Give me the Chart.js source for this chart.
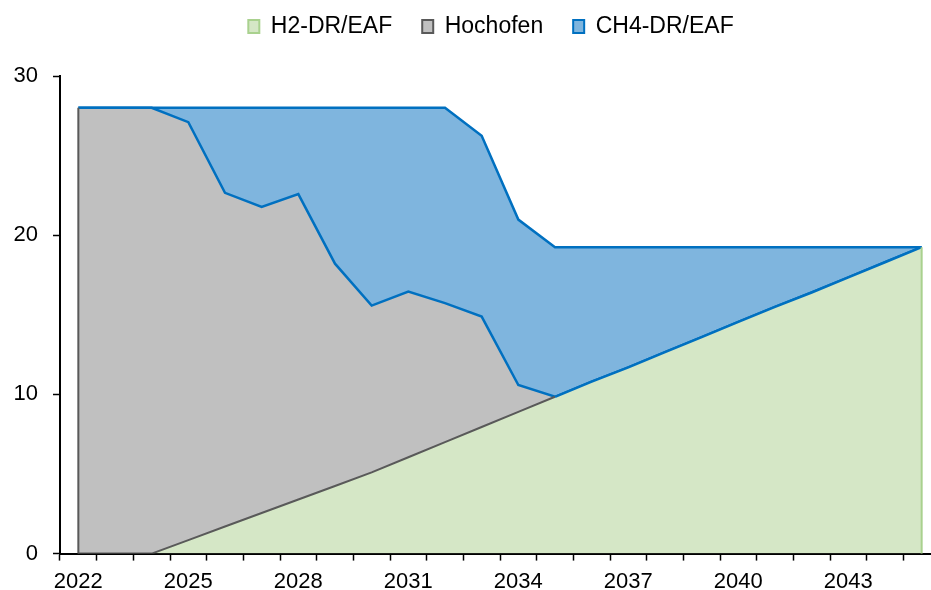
<!DOCTYPE html>
<html>
<head>
<meta charset="utf-8">
<title>Stahlproduktion nach Verfahren</title>
<script src="https://cdn.jsdelivr.net/npm/chart.js@4.4.0/dist/chart.umd.min.js"></script>
<style>
    html, body { margin: 0; padding: 0; background: #fff; overflow: hidden; }
    #wrap { width: 982px; height: 590px; }
</style>
</head>
<body>
<div id="wrap"><canvas id="chart" width="982" height="590"></canvas></div>
<script>
// Jahre (Kategorien)
const years = ['2022', '2023', '2024', '2025', '2026', '2027', '2028', '2029', '2030', '2031', '2032', '2033',
               '2034', '2035', '2036', '2037', '2038', '2039', '2040', '2041', '2042', '2043', '2044', '2045'];

// Werte je Verfahren (gestapelt)
const h2Values = [0, 0, 0, 0.85, 1.7, 2.55, 3.4, 4.25, 5.1, 6.05, 7.0, 7.95,
                  8.9, 9.85, 10.8, 11.7, 12.65, 13.6, 14.55, 15.5, 16.4, 17.35, 18.3, 19.25];
const hochofenValues = [28, 28, 28, 26.25, 20.96, 19.23, 19.18, 13.96, 10.48, 10.41, 8.73, 6.94,
                        1.69, 0, 0, 0, 0, 0, 0, 0, 0, 0, 0, 0];
const ch4Values = [0, 0, 0, 0.9, 5.34, 6.22, 5.42, 9.79, 12.42, 11.54, 12.27, 11.36,
                   10.39, 9.4, 8.45, 7.55, 6.6, 5.65, 4.7, 3.75, 2.85, 1.9, 0.95, 0];

// Achsenbeschriftung Y
const yTicks = [0, 10, 20, 30];

// Farben
const colors = {
    h2Fill: '#d5e7c6',
    h2Line: '#a9d18e',
    hoFill: '#c0c0c0',
    hoLine: '#595959',
    ch4Fill: '#7fb5de',
    ch4Line: '#0070c0'
};

const FONT = "'Liberation Sans', Arial, sans-serif";

// Legende etwas nach oben/rechts versetzen
const LEGEND_SHIFT = { x: 21, y: -28 };

const legendShiftPlugin = {
    id: 'legendShift',
    afterUpdate(chart) {
        const lg = chart.legend;
        if (!lg) return;
        lg.left += LEGEND_SHIFT.x;
        lg.right += LEGEND_SHIFT.x;
        lg.top += LEGEND_SHIFT.y;
        lg.bottom += LEGEND_SHIFT.y;
    }
};

// Seitenkanten der Flaechen (links Hochofen, rechts H2)
const edgePlugin = {
    id: 'edges',
    afterDatasetsDraw(chart) {
        const x = chart.scales.x;
        const y = chart.scales.y;
        const ctx = chart.ctx;
        const last = years.length - 1;
        const x0 = x.getPixelForValue(0);
        const x1 = x.getPixelForValue(last);
        ctx.save();
        ctx.lineWidth = 2;
        ctx.strokeStyle = colors.hoLine;
        ctx.beginPath();
        ctx.moveTo(x0, y.getPixelForValue(0));
        ctx.lineTo(x0, y.getPixelForValue(h2Values[0] + hochofenValues[0]));
        ctx.stroke();
        ctx.strokeStyle = colors.h2Line;
        ctx.beginPath();
        ctx.moveTo(x1, y.getPixelForValue(0));
        ctx.lineTo(x1, y.getPixelForValue(h2Values[last]));
        ctx.stroke();
        ctx.restore();
    }
};

const legendBorders = [colors.h2Line, colors.hoLine, colors.ch4Line];

new Chart(document.getElementById('chart'), {
    type: 'line',
    data: {
        labels: years,
        datasets: [
            {
                label: 'H2-DR/EAF',
                data: h2Values,
                backgroundColor: colors.h2Fill,
                borderColor: colors.h2Line,
                borderWidth: 2,
                fill: 'origin',
                // Oberkante: unter Hochofen grau, darueber blau
                segment: {
                    borderColor: ctx => (hochofenValues[ctx.p0DataIndex] > 0 || hochofenValues[ctx.p1DataIndex] > 0)
                        ? colors.hoLine : colors.ch4Line,
                    borderWidth: ctx => (hochofenValues[ctx.p0DataIndex] > 0 || hochofenValues[ctx.p1DataIndex] > 0)
                        ? 2 : 2.5
                }
            },
            {
                label: 'Hochofen',
                data: hochofenValues,
                backgroundColor: colors.hoFill,
                borderColor: colors.ch4Line,
                borderWidth: 2.5,
                fill: '-1'
            },
            {
                label: 'CH4-DR/EAF',
                data: ch4Values,
                backgroundColor: colors.ch4Fill,
                borderColor: colors.ch4Line,
                borderWidth: 2.5,
                fill: '-1'
            }
        ]
    },
    options: {
        responsive: false,
        animation: false,
        devicePixelRatio: 1,
        elements: {
            point: { radius: 0, hoverRadius: 0 },
            line: { tension: 0, borderJoinStyle: 'miter' }
        },
        layout: {
            padding: { left: 0, right: 42, top: 0, bottom: -13 }
        },
        plugins: {
            tooltip: { enabled: false },
            legend: {
                position: 'top',
                labels: {
                    font: { family: FONT, size: 23 },
                    color: '#000',
                    boxWidth: 11,
                    boxHeight: 13,
                    padding: 30,
                    generateLabels(chart) {
                        const items = Chart.defaults.plugins.legend.labels.generateLabels(chart);
                        items.forEach((item, i) => {
                            item.strokeStyle = legendBorders[i];
                            item.lineWidth = 2;
                        });
                        return items;
                    }
                }
            }
        },
        scales: {
            x: {
                offset: true,
                z: 1,
                grid: {
                    offset: true,
                    drawOnChartArea: false,
                    drawTicks: true,
                    tickLength: 7,
                    tickWidth: 1.5,
                    tickColor: '#000'
                },
                border: { display: true, color: '#000', width: 2 },
                ticks: {
                    autoSkip: false,
                    maxRotation: 0,
                    padding: 8,
                    color: '#000',
                    font: { family: FONT, size: 22 },
                    callback: (val, i) => (i % 3 === 0 ? years[i] : '')
                }
            },
            y: {
                stacked: true,
                min: 0,
                max: 30,
                z: 1,
                afterFit: scale => {
                    scale.width = 60;
                    scale.paddingTop = 76;
                },
                afterBuildTicks: scale => { scale.ticks = yTicks.map(v => ({ value: v })); },
                grid: {
                    drawOnChartArea: false,
                    drawTicks: true,
                    tickLength: 7,
                    tickWidth: 1.5,
                    tickColor: '#000'
                },
                border: { display: true, color: '#000', width: 2 },
                ticks: {
                    padding: 15,
                    color: '#000',
                    font: { family: FONT, size: 22 }
                }
            }
        }
    },
    plugins: [edgePlugin, legendShiftPlugin]
});
</script>
</body>
</html>
